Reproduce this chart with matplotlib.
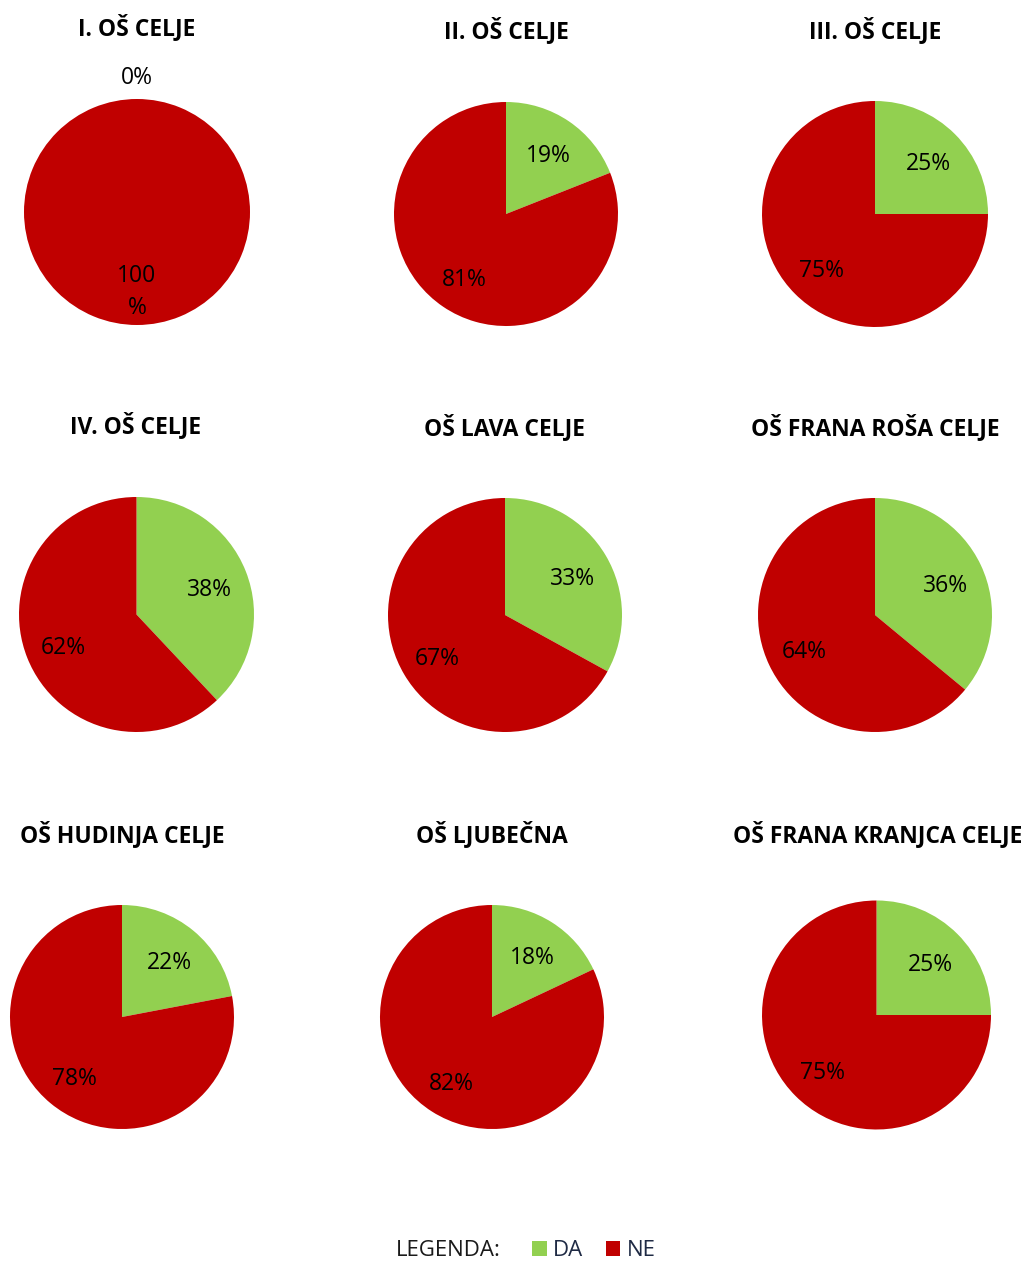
import matplotlib
matplotlib.use('Agg')
import matplotlib.pyplot as plt
from matplotlib.patches import Patch

# podatki
schools = ['I. OŠ CELJE', 'II. OŠ CELJE', 'III. OŠ CELJE',
           'IV. OŠ CELJE', 'OŠ LAVA CELJE', 'OŠ FRANA ROŠA CELJE',
           'OŠ HUDINJA CELJE', 'OŠ LJUBEČNA', 'OŠ FRANA KRANJCA CELJE']
da = [0, 19, 25, 38, 33, 36, 22, 18, 25]
ne = [100, 81, 75, 62, 67, 64, 78, 82, 75]
answers = ['DA', 'NE']
colors = ['#92D050', '#C00000']

plt.rcParams['font.family'] = ['Open Sans', 'DejaVu Sans']

W, H = 1026, 1266
fig = plt.figure(figsize=(W / 100, H / 100), dpi=100)

# postavitev (piksli)
cx = [137, 506, 875, 136.5, 505, 875, 122, 492, 876.5]
cy = [212, 214, 214, 614.5, 615, 615, 1017, 1017, 1015]
rad = [113, 112, 113, 117.5, 117, 117, 112, 112, 114.5]
tx = [137, 506, 875, 136, 505, 875, 122, 492, 878]
ty = [28, 31, 31, 426, 428, 428, 835, 835, 835]

for i, name in enumerate(schools):
    x, y, r = cx[i], cy[i], rad[i]
    ax = fig.add_axes([(x - r) / W, 1 - (y + r) / H, 2 * r / W, 2 * r / H])
    wedges, texts, autotexts = ax.pie([da[i], ne[i]], colors=colors, startangle=90,
                                      counterclock=False, autopct='%1.0f%%',
                                      pctdistance=0.67, radius=1,
                                      wedgeprops={'linewidth': 0},
                                      textprops={'fontsize': 16.5, 'color': 'black'})
    ax.set_xlim(-1, 1)
    ax.set_ylim(-1, 1)
    ax.set_aspect('equal')
    for t in autotexts:
        px, py = t.get_position()
        t.set_position((px, py - 0.035))
    if da[i] == 0:
        autotexts[0].set_position((0, 1.19))
        autotexts[1].set_text('100\n%')
        autotexts[1].set_linespacing(1.45)
    fig.text(tx[i] / W, 1 - ty[i] / H, name, ha='center', va='center',
             fontsize=16.5, fontweight='bold', color='black')

# legenda
leg_y = 1251
fig.text(448 / W, 1 - leg_y / H, 'LEGENDA:', ha='center', va='center', fontsize=16,
         color='#1a1a1a')
handles = [Patch(facecolor=c, label=a) for c, a in zip(colors, answers)]
fig.legend(handles=handles, loc='center', bbox_to_anchor=(594 / W, 1 - leg_y / H),
           ncol=2, frameon=False, fontsize=16, handlelength=0.65, handleheight=0.65,
           handletextpad=0.3, columnspacing=1.0, borderpad=0, labelcolor='#1F2A44')

plt.savefig('out.png', dpi=100)
